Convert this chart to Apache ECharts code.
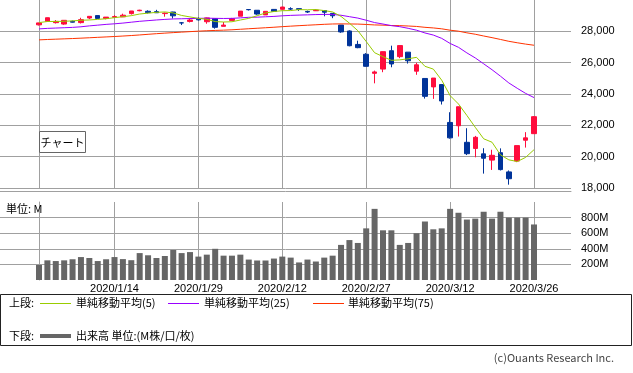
<!DOCTYPE html>
<html><head><meta charset="utf-8">
<script src="https://cdn.jsdelivr.net/npm/echarts@6/dist/echarts.min.js"></script>
<style>html,body{margin:0;padding:0;background:#fff;}#c{width:633px;height:373px;}</style>
</head><body><div id="c"></div>
<script>
const dates = ['2019/12/31','2020/1/2','2020/1/3','2020/1/6','2020/1/7','2020/1/8','2020/1/9','2020/1/10','2020/1/13','2020/1/14',
'2020/1/15','2020/1/16','2020/1/17','2020/1/21','2020/1/22','2020/1/23','2020/1/24','2020/1/27','2020/1/28','2020/1/29',
'2020/1/30','2020/1/31','2020/2/3','2020/2/4','2020/2/5','2020/2/6','2020/2/7','2020/2/10','2020/2/11','2020/2/12',
'2020/2/13','2020/2/14','2020/2/18','2020/2/19','2020/2/20','2020/2/21','2020/2/24','2020/2/25','2020/2/26','2020/2/27',
'2020/2/28','2020/3/2','2020/3/3','2020/3/4','2020/3/5','2020/3/6','2020/3/9','2020/3/10','2020/3/11','2020/3/12',
'2020/3/13','2020/3/16','2020/3/17','2020/3/18','2020/3/19','2020/3/20','2020/3/23','2020/3/24','2020/3/25','2020/3/26'];
const opens = [28415,28639,28553,28465,28639,28556,28851,29005,28823,28898,
28924,29132,29316,29280,29257,29132,29234,28542,28631,28823,
28613,28813,28319,28697,28966,29392,29345,29050,29400,29406,
29440,29448,29269,29313,29329,29146,28402,28023,27164,26536,
25320,25590,26762,26383,26671,25458,24992,24453,24604,22184,
21973,20917,20525,20180,19780,20254,19028,19722,21050,21468];
const closes = [28538,28869,28635,28703,28584,28745,28957,28824,28907,28940,
29030,29298,29348,29196,29186,29160,28990,28536,28723,28734,
28859,28256,28400,28808,29291,29380,29103,29277,29276,29551,
29423,29398,29232,29348,29220,28992,27961,27081,26958,25767,
25409,26703,25917,27091,26121,25865,23851,25018,23553,21201,
23186,20189,21237,19899,20087,19174,18592,20705,21201,22552];
const lows = [28376,28628,28500,28419,28565,28502,28778,28789,28767,28857,
28915,29072,29282,29139,29186,28934,28822,28401,28567,28688,
28486,28169,28319,28697,28966,29328,29056,29040,29242,29406,
29357,29304,29173,29307,28958,28841,27908,27046,26922,25754,
24681,25391,25706,26286,25943,25226,23706,23690,23328,21154,
21285,20103,19958,18918,19154,19121,18213,19649,20580,21468];
const highs = [28547,28873,28716,28708,28685,28866,28958,29009,28908,29028,
29127,29300,29374,29341,29373,29200,29247,28595,28788,28892,
28880,28813,28593,28858,29292,29408,29345,29277,29416,29568,
29536,29448,29322,29409,29359,29152,28402,28064,27402,26610,
25494,26706,27084,27102,26671,25995,24992,25020,24604,22837,
23186,21816,21325,20540,20440,20531,19121,20705,21564,22595];
const volumes = [193,252,243,252,266,294,282,243,266,294,
268,254,345,317,282,308,385,345,358,300,
325,400,312,312,325,262,250,250,275,300,
287,225,262,237,287,312,450,512,475,662,
912,637,637,450,475,600,750,650,662,912,
862,775,787,875,787,875,800,800,800,712];
const ma5 = [28557,28627,28630,28642,28666,28707,28725,28763,28803,28875,
28932,29000,29105,29162,29212,29238,29176,29014,28919,28829,
28769,28622,28595,28612,28723,28827,28996,29172,29265,29317,
29326,29385,29376,29391,29324,29238,28951,28521,28042,27352,
26635,26384,26151,26178,26248,26340,25769,25589,24882,23898,
23362,22629,21873,21142,20920,20117,19798,19691,19952,20445];
const ma25 = [28156,28188,28209,28230,28252,28290,28348,28395,28444,28481,
28526,28583,28640,28683,28725,28762,28791,28803,28817,28828,
28840,28830,28821,28828,28861,28894,28904,28929,28952,28991,
29018,29036,29052,29070,29081,29079,29026,28935,28846,28709,
28559,28467,28363,28297,28193,28073,27897,27762,27551,27228,
26980,26624,26302,25927,25548,25138,24706,24365,24039,23772];
const ma75 = [27455,27479,27499,27520,27540,27564,27590,27617,27643,27670,
27700,27732,27769,27810,27850,27885,27918,27950,27981,28011,
28038,28058,28076,28100,28131,28165,28196,28229,28261,28298,
28331,28362,28391,28419,28448,28470,28477,28471,28464,28439,
28409,28395,28372,28363,28340,28312,28256,28217,28160,28073,
28010,27905,27814,27703,27597,27482,27364,27271,27185,27112];
const priceTicks = [18000,20000,22000,24000,26000,28000];
const volumeTicks = [200,400,600,800];
const dateLabelIdx = [9,19,29,39,49,59];

const AX = '"Liberation Sans", Arial, sans-serif';
const JP = '"Noto Sans CJK JP", sans-serif';
const GRID_C = '#a0a0a0';
const UP = '#ff0d3d', DOWN = '#003399';
const xMin = -4.648, xMax = 63.41;

const chart = echarts.init(document.getElementById('c'), null, {renderer:'canvas'});
const vGrid = {
  silent:true, symbol:['none','none'], z:1, animation:false,
  label:{show:false}, emphasis:{disabled:true},
  lineStyle:{color:GRID_C, width:1, type:'solid'},
  data: dateLabelIdx.map(i => ({xAxis:i}))
};
const option = {
  animation:false,
  backgroundColor:'#fff',
  grid:[
    {left:0, top:0, width:571, height:188},
    {left:0, top:202, width:571, height:78}
  ],
  xAxis:[
    {type:'value', gridIndex:0, min:xMin, max:xMax, offset:3,
     axisLine:{show:true, lineStyle:{color:GRID_C}}, axisTick:{show:false}, axisLabel:{show:false}, splitLine:{show:false}},
    {type:'value', gridIndex:1, min:xMin, max:xMax,
     axisLine:{show:false}, axisTick:{show:false}, splitLine:{show:false},
     axisLabel:{show:true, customValues:dateLabelIdx, formatter:v => dates[Math.round(v)] || '',
       fontSize:11, fontFamily:AX, color:'#000', margin:3}}
  ],
  yAxis:[
    {type:'value', gridIndex:0, position:'right', min:18000, max:30000, interval:2000,
     axisLine:{show:true, lineStyle:{color:GRID_C}},
     axisTick:{show:true, inside:false, length:4, customValues:priceTicks, lineStyle:{color:GRID_C}},
     axisLabel:{customValues:priceTicks, formatter:v => v.toLocaleString('en-US'), fontSize:11, fontFamily:AX, color:'#000', margin:10},
     splitLine:{show:true, lineStyle:{color:GRID_C, width:1}}},
    {type:'value', gridIndex:1, position:'right', min:0, max:1000, interval:200,
     axisLine:{show:true, lineStyle:{color:GRID_C}},
     axisTick:{show:true, inside:false, length:4, customValues:volumeTicks, lineStyle:{color:GRID_C}},
     axisLabel:{customValues:volumeTicks, formatter:v => v + 'M', fontSize:11, fontFamily:AX, color:'#000', margin:10},
     splitLine:{show:true, lineStyle:{color:GRID_C, width:1}}}
  ],
  series:[
    {type:'candlestick', xAxisIndex:0, yAxisIndex:0, barWidth:5, z:2,
     data: dates.map((d,i) => [i, opens[i], closes[i], lows[i], highs[i]]),
     encode:{x:0, y:[1,2,3,4]},
     itemStyle:{color:UP, color0:DOWN, borderColor:UP, borderColor0:DOWN, borderWidth:1},
     markLine: vGrid},
    {type:'line', xAxisIndex:0, yAxisIndex:0, z:3, showSymbol:false, symbol:'none',
     data: ma75.map((v,i)=>[i,v]), lineStyle:{color:'#ff3300', width:1}, itemStyle:{color:'#ff3300'}},
    {type:'line', xAxisIndex:0, yAxisIndex:0, z:3, showSymbol:false, symbol:'none',
     data: ma25.map((v,i)=>[i,v]), lineStyle:{color:'#9900ff', width:1}, itemStyle:{color:'#9900ff'}},
    {type:'line', xAxisIndex:0, yAxisIndex:0, z:3, showSymbol:false, symbol:'none',
     data: ma5.map((v,i)=>[i,v]), lineStyle:{color:'#99cc00', width:1}, itemStyle:{color:'#99cc00'}},
    {type:'bar', xAxisIndex:1, yAxisIndex:1, barWidth:6, z:2,
     data: volumes.map((v,i)=>[i,v]), itemStyle:{color:'#666666'},
     markLine: vGrid}
  ],
  graphic:[
    {type:'rect', shape:{x:39.5, y:131.5, width:46, height:21}, style:{fill:'#fff', stroke:'#666', lineWidth:1}, z:10},
    {type:'text', x:62.5, y:142.5, style:{text:'チャート', font:'11px '+JP, fill:'#000', align:'center', verticalAlign:'middle'}, z:11},
    {type:'text', x:6, y:209, style:{text:'単位: M', font:'11px '+JP, fill:'#000', align:'left', verticalAlign:'middle'}, z:11},
    {type:'rect', shape:{x:0.5, y:294.5, width:631, height:51}, style:{fill:'#fff', stroke:'#222', lineWidth:1}, z:10},
    {type:'text', x:9, y:303, style:{text:'上段:', font:'11px '+JP, fill:'#000', align:'left', verticalAlign:'middle'}, z:11},
    {type:'line', shape:{x1:40, y1:303.5, x2:71, y2:303.5}, style:{stroke:'#99cc00', lineWidth:1}, z:11},
    {type:'text', x:76, y:303, style:{text:'単純移動平均(5)', font:'11px '+JP, fill:'#000', align:'left', verticalAlign:'middle'}, z:11},
    {type:'line', shape:{x1:168, y1:303.5, x2:199, y2:303.5}, style:{stroke:'#9900ff', lineWidth:1}, z:11},
    {type:'text', x:204, y:303, style:{text:'単純移動平均(25)', font:'11px '+JP, fill:'#000', align:'left', verticalAlign:'middle'}, z:11},
    {type:'line', shape:{x1:313, y1:303.5, x2:344, y2:303.5}, style:{stroke:'#ff3300', lineWidth:1}, z:11},
    {type:'text', x:348, y:303, style:{text:'単純移動平均(75)', font:'11px '+JP, fill:'#000', align:'left', verticalAlign:'middle'}, z:11},
    {type:'text', x:9, y:336, style:{text:'下段:', font:'11px '+JP, fill:'#000', align:'left', verticalAlign:'middle'}, z:11},
    {type:'line', shape:{x1:40, y1:336, x2:71, y2:336}, style:{stroke:'#666', lineWidth:4}, z:11},
    {type:'text', x:76, y:336, style:{text:'出来高 単位:(M株/口/枚)', font:'11px '+JP, fill:'#000', align:'left', verticalAlign:'middle'}, z:11},
    {type:'text', x:614, y:358, style:{text:'(c)Ouants Research Inc.', font:'11px '+JP, fill:'#444', align:'right', verticalAlign:'middle'}, z:11}
  ]
};
chart.setOption(option);
</script>
</body></html>
